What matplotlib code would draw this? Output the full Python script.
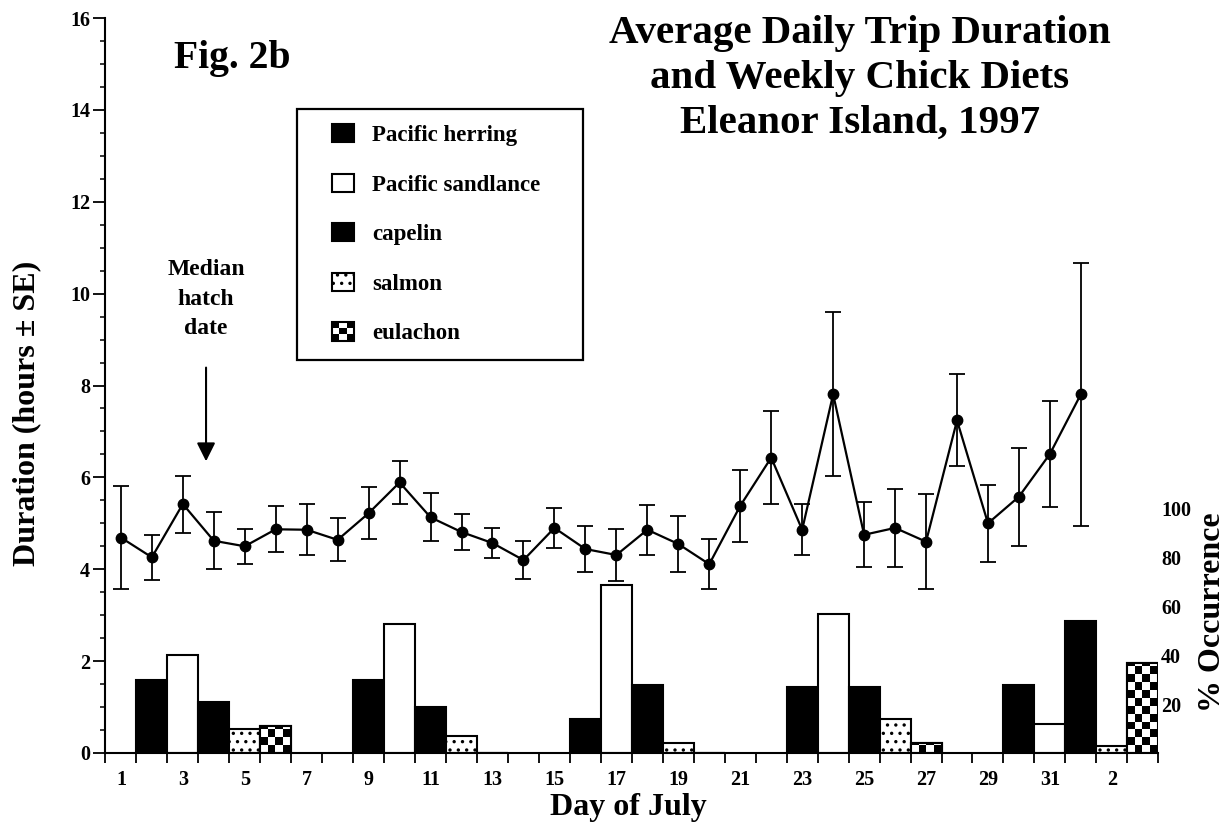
import numpy as np
import matplotlib
matplotlib.use("Agg")
import matplotlib.pyplot as plt
from matplotlib.patches import Patch, Rectangle
from matplotlib.legend_handler import HandlerBase
from matplotlib import transforms

# ---------------- data ----------------
days = list(range(1, 33))
dur_mean = [4.69, 4.26, 5.42, 4.62, 4.50, 4.87, 4.86, 4.64, 5.22, 5.89, 5.13, 4.81,
            4.57, 4.20, 4.90, 4.44, 4.31, 4.86, 4.55, 4.11, 5.38, 6.43, 4.86, 7.81,
            4.75, 4.90, 4.60, 7.24, 5.00, 5.58, 6.51, 7.81]
dur_se = [1.13, 0.49, 0.62, 0.62, 0.38, 0.50, 0.56, 0.47, 0.56, 0.47, 0.52, 0.40,
          0.32, 0.41, 0.43, 0.50, 0.56, 0.54, 0.60, 0.55, 0.78, 1.01, 0.55, 1.79,
          0.71, 0.85, 1.03, 1.00, 0.84, 1.07, 1.15, 2.86]

species = ["Pacific herring", "Pacific sandlance", "capelin", "salmon", "eulachon"]
week_first_day = [2, 9, 16, 23, 30]
herring = [30, 30, 14, 27, 28]
sandlance = [40, 53, 69, 57, 12]
capelin = [21, 19, 28, 27, 54]
salmon = [10, 7, 4, 14, 3]
eulachon = [11, 0, 0, 4, 37]

xtick_days = [1, 3, 5, 7, 9, 11, 13, 15, 17, 19, 21, 23, 25, 27, 29, 31, 33]
xtick_labels = ["1", "3", "5", "7", "9", "11", "13", "15", "17", "19", "21", "23",
                "25", "27", "29", "31", "2"]
occ_ticks = [20, 40, 60, 80, 100]
median_hatch_day = 3.75

# ---------------- style ----------------
plt.rcParams['font.family'] = ['Liberation Serif', 'DejaVu Serif']
plt.rcParams['font.weight'] = 'bold'
plt.rcParams['hatch.linewidth'] = 1.2
plt.rcParams['hatch.color'] = 'black'

W, H = 1230, 825
fig = plt.figure(figsize=(W / 100, H / 100), dpi=100)
fig.patch.set_facecolor('white')

ax_l, ax_r = 105.4, 1158.3
ax_t, ax_b = 18.0, 753.0
ax = fig.add_axes([ax_l / W, 1 - ax_b / H, (ax_r - ax_l) / W, (ax_b - ax_t) / H])
ax2 = ax.twinx()
ax.set_zorder(ax2.get_zorder() + 1)
ax.patch.set_visible(False)

# ---------------- bars (% occurrence) ----------------
diet = [herring, sandlance, capelin, salmon, eulachon]
faces = ['black', 'white', 'black', 'white', 'white']
hatches = [None, None, None, '..', None]
wk = np.array(week_first_day)
bar_groups = []
for i, vals in enumerate(diet):
    bars = ax2.bar(wk + i, vals, width=1.0, facecolor=faces[i], edgecolor='black',
                   linewidth=1.5, hatch=hatches[i], zorder=2)
    bar_groups.append(bars)

# checkerboard fill for eulachon
cell_w, cell_h = 0.25, 3.2
for bar in bar_groups[4]:
    h = bar.get_height()
    if h <= 0:
        continue
    x0 = bar.get_x()
    nrows = int(np.ceil(h / cell_h))
    ncols = int(round(bar.get_width() / cell_w))
    board = np.add.outer(np.arange(nrows), np.arange(ncols)) % 2
    im = ax2.imshow(board, cmap='binary', vmin=0, vmax=1, origin='lower',
                    extent=(x0, x0 + bar.get_width(), 0, nrows * cell_h),
                    interpolation='nearest', aspect='auto', zorder=2.5)
    im.set_clip_path(bar)
ax2.bar(wk + 4, eulachon, width=1.0, fill=False, edgecolor='black', linewidth=1.5, zorder=3)

# ---------------- duration line ----------------
ax.errorbar(days, dur_mean, yerr=dur_se, fmt='-o', color='black', lw=1.6, ms=7.5,
            capsize=6, elinewidth=1.3, capthick=1.3, zorder=5)

# ---------------- axes ----------------
ax.set_xlim(0.5, 34.5)
ax.set_ylim(0, 16)
ax2.set_xlim(0.5, 34.5)
ax2.set_ylim(0, (ax_b - ax_t) / 2.44)

for s in ['top', 'right']:
    ax.spines[s].set_visible(False)
for s in ax2.spines.values():
    s.set_visible(False)
ax.spines['left'].set_linewidth(1.5)
ax.spines['bottom'].set_linewidth(1.5)

ax.set_xticks(np.arange(0.5, 35, 1.0))
ax.set_xticklabels([])
ax.set_xticks(xtick_days, minor=True)
ax.set_xticklabels(xtick_labels, minor=True)
ax.tick_params(axis='x', which='major', direction='out', length=7, width=1.3)
ax.tick_params(axis='x', which='minor', length=0, pad=12, labelsize=14.5)

ax.set_yticks(np.arange(0, 17, 2))
ax.set_yticks(np.arange(0, 16.01, 0.5), minor=True)
ax.tick_params(axis='y', which='major', direction='out', length=9, width=1.3,
               pad=2, labelsize=14.5)
ax.tick_params(axis='y', which='minor', direction='out', length=3.5, width=1.1)

ax2.set_yticks(occ_ticks)
ax2.tick_params(axis='y', length=0, pad=2, labelsize=14.5)

# ---------------- labels ----------------
fig.text(27 / W, 1 - 413 / H, 'Duration (hours \u00b1 SE)', rotation=90,
         ha='center', va='center', fontsize=23)
fig.text(1212 / W, 1 - 612 / H, '% Occurrence', rotation=90,
         ha='center', va='center', fontsize=23)
fig.text(628 / W, 1 - 815 / H, 'Day of July', ha='center', va='baseline', fontsize=23)

fig.text(174 / W, 1 - 68 / H, 'Fig. 2b', ha='left', va='baseline', fontsize=28.5)
for line, base in zip(['Average Daily Trip Duration', 'and Weekly Chick Diets',
                       'Eleanor Island, 1997'], [43, 88, 133]):
    fig.text(860 / W, 1 - base / H, line, ha='center', va='baseline', fontsize=29.5)

# median hatch date
blend = transforms.blended_transform_factory(ax.transData, fig.transFigure)
for line, base in zip(['Median', 'hatch', 'date'], [275, 305, 334]):
    ax.text(median_hatch_day, 1 - base / H, line, transform=blend, ha='center',
            va='baseline', fontsize=17)
ax.annotate('', xy=(median_hatch_day, 6.35), xytext=(median_hatch_day, 8.39),
            arrowprops=dict(arrowstyle='-|>', color='black', lw=1.5,
                            mutation_scale=28, shrinkA=0, shrinkB=0))

# ---------------- legend ----------------
class CheckerHandler(HandlerBase):
    def create_artists(self, legend, orig_handle, xdescent, ydescent, width,
                       height, fontsize, trans):
        arts = []
        n = 3
        cw, ch = width / n, height / n
        for i in range(n):
            for j in range(n):
                arts.append(Rectangle((-xdescent + i * cw, -ydescent + j * ch), cw, ch,
                                      facecolor='black' if (i + j) % 2 == 0 else 'white',
                                      edgecolor='none', transform=trans))
        arts.append(Rectangle((-xdescent, -ydescent), width, height, facecolor='none',
                              edgecolor='black', lw=1.5, transform=trans))
        return arts

handles = [Patch(facecolor=faces[i], edgecolor='black', hatch=hatches[i], lw=1.5)
           for i in range(4)]
eul_handle = Patch(facecolor='white', edgecolor='black')
handles.append(eul_handle)
leg = ax.legend(handles, species, loc='upper left',
                bbox_to_anchor=(332 / W, 1 - 124 / H), bbox_transform=fig.transFigure,
                frameon=False, borderpad=0, borderaxespad=0, handlelength=0.95,
                handleheight=0.85, handletextpad=0.8, labelspacing=1.2, fontsize=16.5,
                handler_map={eul_handle: CheckerHandler()})
fig.add_artist(Rectangle((297 / W, 1 - 360 / H), 286 / W, 251 / H,
                         transform=fig.transFigure, fill=False, lw=1.6,
                         edgecolor='black'))

fig.savefig('out.png', dpi=100)
